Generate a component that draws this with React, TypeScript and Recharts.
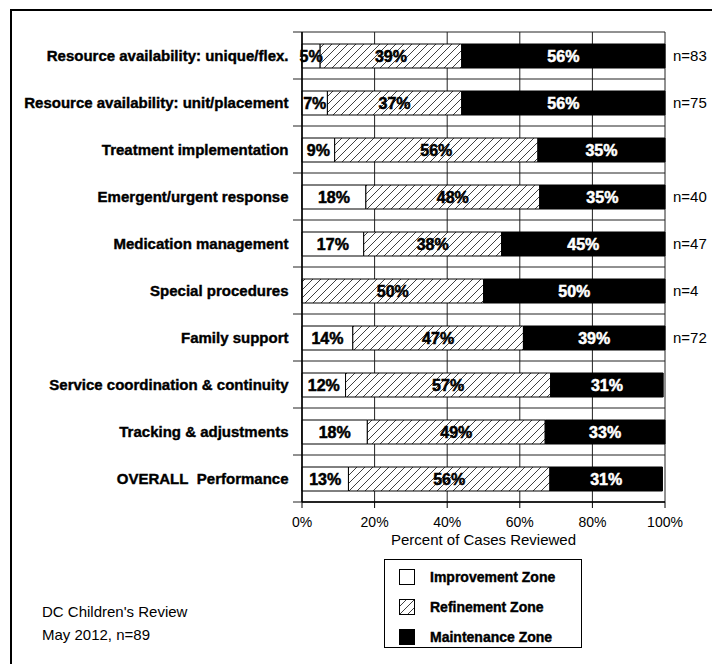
import React from 'react';
import { BarChart, Bar, XAxis, YAxis, CartesianGrid, LabelList, Legend } from 'recharts';

const categories = [
  'Resource availability: unique/flex.',
  'Resource availability: unit/placement',
  'Treatment implementation',
  'Emergent/urgent response',
  'Medication management',
  'Special procedures',
  'Family support',
  'Service coordination & continuity',
  'Tracking & adjustments',
  'OVERALL\u00a0 Performance',
];
const improvement = [5, 7, 9, 17.6, 17, 0, 14, 12, 18, 12.8];
const refinement = [39, 37, 56, 47.9, 38, 50, 47, 56.5, 49, 55.5];
const maintenance = [56, 56, 35, 34.5, 45, 50, 39, 31, 33, 31];
const nCounts = ['n=83', 'n=75', '', 'n=40', 'n=47', 'n=4', 'n=72', '', '', ''];
const xTicks = [0, 20, 40, 60, 80, 100];
const legendOrder = ['Improvement Zone', 'Refinement Zone', 'Maintenance Zone'];

const data = categories.map((name, i) => ({
  name,
  improve: improvement[i],
  refine: refinement[i],
  maintain: maintenance[i],
}));

const FONT = '"Liberation Sans", Arial, Helvetica, sans-serif';

const fmt = (v: any) => (Number(v) > 0 ? `${Math.round(Number(v))}%` : '');

const rowLines = ({ offset }: any) =>
  Array.from({ length: categories.length + 1 }, (_, i) => offset.top + (i * offset.height) / categories.length);

const renderLegend = (props: any) => {
  const payload = [...(props.payload || [])].sort(
    (a: any, b: any) => legendOrder.indexOf(a.value) - legendOrder.indexOf(b.value)
  );
  return (
    <div
      style={{
        width: 198,
        height: 89,
        boxSizing: 'border-box',
        border: '1.5px solid #000',
        background: '#fff',
        fontFamily: FONT,
        paddingTop: 2,
      }}
    >
      {payload.map((entry: any, i: number) => (
        <div key={i} style={{ display: 'flex', alignItems: 'center', height: 30 }}>
          <svg width={16} height={16} style={{ marginLeft: 14, marginRight: 15 }}>
            <rect x={0.5} y={0.5} width={15} height={15} fill={entry.color} stroke="#000" strokeWidth={1} />
          </svg>
          <span style={{ fontSize: 14, fontWeight: 'bold', color: '#000', WebkitTextStroke: '0.4px #000' }}>{entry.value}</span>
        </div>
      ))}
    </div>
  );
};

export default function App() {
  return (
    <div style={{ position: 'absolute', left: 0, top: 0, width: 712, height: 664, background: '#fff', fontFamily: FONT }}>
      <div
        style={{
          position: 'absolute',
          left: 10,
          top: 9,
          width: 720,
          height: 700,
          borderLeft: '2px solid #000',
          borderTop: '2px solid #000',
        }}
      />
      <div style={{ position: 'absolute', left: 0, top: 0 }}>
        <BarChart
          layout="vertical"
          width={712}
          height={664}
          data={data}
          margin={{ top: 32, right: 0, bottom: 114, left: 12 }}
          barSize={24}
        >
          <defs>
            <pattern id="hatch" patternUnits="userSpaceOnUse" width="8" height="8">
              <rect width="8" height="8" fill="#fff" />
              <path d="M-2,2 L2,-2 M0,8 L8,0 M6,10 L10,6" stroke="#000" strokeWidth="0.75" />
            </pattern>
          </defs>
          <CartesianGrid
            stroke="#222"
            strokeWidth={1}
            x={293}
            width={372}
            horizontalCoordinatesGenerator={rowLines}
          />
          <YAxis
            yAxisId="cat"
            type="category"
            dataKey="name"
            width={290}
            axisLine={{ stroke: '#000', strokeWidth: 1.5 }}
            tickLine={false}
            tickSize={6}
            tickMargin={7.5}
            interval={0}
            tick={{ fill: '#000', fontSize: 15, fontWeight: 'bold', fontFamily: FONT, stroke: '#000', strokeWidth: 0.4 }}
          />
          <YAxis
            yAxisId="n"
            orientation="right"
            type="category"
            dataKey="name"
            width={47}
            axisLine={false}
            tickLine={false}
            tickSize={0}
            tickMargin={8}
            interval={0}
            tickFormatter={(v: any) => nCounts[categories.indexOf(v)] || ''}
            tick={{ fill: '#000', fontSize: 15, fontFamily: FONT }}
          />
          <XAxis
            type="number"
            domain={[0, 100]}
            ticks={xTicks}
            tickFormatter={(v: any) => `${v}%`}
            axisLine={{ stroke: '#000', strokeWidth: 1.5 }}
            tickLine={{ stroke: '#000' }}
            tickSize={6}
            tickMargin={9}
            height={48}
            tick={{ fill: '#000', fontSize: 14, fontFamily: FONT }}
            label={{ value: 'Percent of Cases Reviewed', position: 'insideBottom', offset: 5, fill: '#000', fontSize: 15, fontFamily: FONT }}
          />
          <Legend
            layout="vertical"
            align="center"
            verticalAlign="middle"
            content={renderLegend}
            wrapperStyle={{ position: 'absolute', left: 384, top: 559, width: 198, height: 89 }}
          />
          <Bar yAxisId="cat" dataKey="improve" stackId="a" name="Improvement Zone" fill="#fff" stroke="#000" strokeWidth={1} isAnimationActive={false}>
            <LabelList dataKey="improve" position="center" formatter={fmt} fill="#000" stroke="#000" strokeWidth={0.5} fontSize={16} fontWeight="bold" fontFamily={FONT} />
          </Bar>
          <Bar yAxisId="cat" dataKey="refine" stackId="a" name="Refinement Zone" fill="url(#hatch)" stroke="#000" strokeWidth={1} isAnimationActive={false}>
            <LabelList dataKey="refine" position="center" formatter={fmt} fill="#000" stroke="#000" strokeWidth={0.5} fontSize={16} fontWeight="bold" fontFamily={FONT} />
          </Bar>
          <Bar yAxisId="cat" dataKey="maintain" stackId="a" name="Maintenance Zone" fill="#000" stroke="#000" strokeWidth={1} isAnimationActive={false}>
            <LabelList dataKey="maintain" position="center" formatter={fmt} fill="#fff" stroke="#fff" strokeWidth={0.5} fontSize={16} fontWeight="bold" fontFamily={FONT} />
          </Bar>
        </BarChart>
      </div>
      <div style={{ position: 'absolute', left: 42, top: 603, fontSize: 15, lineHeight: '18px', color: '#000' }}>
        DC Children's Review
      </div>
      <div style={{ position: 'absolute', left: 42, top: 626, fontSize: 15, lineHeight: '18px', color: '#000' }}>
        May 2012, n=89
      </div>
    </div>
  );
}
